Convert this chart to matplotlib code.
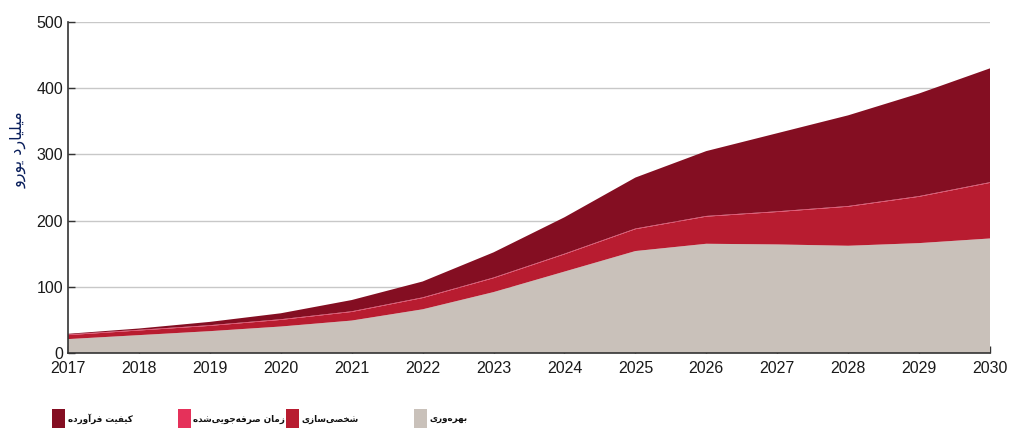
import matplotlib
matplotlib.use("Agg")
import matplotlib.pyplot as plt
from matplotlib.patches import Rectangle

years = [2017, 2018, 2019, 2020, 2021, 2022, 2023, 2024, 2025, 2026, 2027, 2028, 2029, 2030]
productivity = [21, 27, 33, 40, 49, 66, 92, 123, 154, 165, 164, 162, 166, 173]
personalization = [6, 7, 8, 10, 13, 17, 21, 26, 33, 41, 49, 59, 70, 84]
time_saved = [1, 1, 1, 1, 1, 1, 1, 1, 1, 1, 1, 1, 1, 1]
quality = [1, 2, 5, 9, 17, 24, 38, 55, 77, 98, 118, 137, 155, 172]

labels = {
    "quality": "کیفیت فرآورده",
    "time_saved": "زمان صرفه\u200cجویی\u200cشده",
    "personalization": "شخصی\u200cسازی",
    "productivity": "بهره\u200cوری",
}
y_label = "میلیارد یورو"
y_ticks = [0, 100, 200, 300, 400, 500]

colors = {
    "productivity": "#C9C1BA",
    "personalization": "#B81C30",
    "time_saved": "#E5315A",
    "quality": "#840E22",
}

# --- minimal Arabic/Persian shaping into presentation forms ---
FORMS = {
    '\u0627': ('\uFE8D', '\uFE8E', None, None),
    '\u0622': ('\uFE81', '\uFE82', None, None),
    '\u0628': ('\uFE8F', '\uFE90', '\uFE91', '\uFE92'),
    '\u062A': ('\uFE95', '\uFE96', '\uFE97', '\uFE98'),
    '\u062C': ('\uFE9D', '\uFE9E', '\uFE9F', '\uFEA0'),
    '\u062E': ('\uFEA5', '\uFEA6', '\uFEA7', '\uFEA8'),
    '\u062F': ('\uFEA9', '\uFEAA', None, None),
    '\u0631': ('\uFEAD', '\uFEAE', None, None),
    '\u0632': ('\uFEAF', '\uFEB0', None, None),
    '\u0633': ('\uFEB1', '\uFEB2', '\uFEB3', '\uFEB4'),
    '\u0634': ('\uFEB5', '\uFEB6', '\uFEB7', '\uFEB8'),
    '\u0635': ('\uFEB9', '\uFEBA', '\uFEBB', '\uFEBC'),
    '\u0641': ('\uFED1', '\uFED2', '\uFED3', '\uFED4'),
    '\u0644': ('\uFEDD', '\uFEDE', '\uFEDF', '\uFEE0'),
    '\u0645': ('\uFEE1', '\uFEE2', '\uFEE3', '\uFEE4'),
    '\u0646': ('\uFEE5', '\uFEE6', '\uFEE7', '\uFEE8'),
    '\u0647': ('\uFEE9', '\uFEEA', '\uFEEB', '\uFEEC'),
    '\u0648': ('\uFEED', '\uFEEE', None, None),
    '\u06A9': ('\uFB8E', '\uFB8F', '\uFB90', '\uFB91'),
    '\u06CC': ('\uFBFC', '\uFBFD', '\uFBFE', '\uFBFF'),
}


def shape(text):
    out = []
    chars = list(text)
    n = len(chars)
    for i, c in enumerate(chars):
        if c == '\u200c':
            continue
        if c not in FORMS:
            out.append(c)
            continue
        f = FORMS[c]
        prev = chars[i - 1] if i > 0 else None
        nxt = chars[i + 1] if i + 1 < n else None
        join_prev = prev in FORMS and FORMS[prev][2] is not None
        join_next = f[2] is not None and nxt in FORMS
        if join_prev and join_next:
            out.append(f[3])
        elif join_prev:
            out.append(f[1])
        elif join_next:
            out.append(f[2])
        else:
            out.append(f[0])
    return ''.join(reversed(out))


W, H = 1009, 428
fig = plt.figure(figsize=(W / 100, H / 100), dpi=100)
ax = fig.add_axes([68 / W, 1 - 353 / H, 922 / W, 331 / H])

ax.stackplot(years, productivity, personalization, time_saved, quality,
             colors=[colors["productivity"], colors["personalization"],
                     colors["time_saved"], colors["quality"]],
             linewidth=0, zorder=2)

ax.set_xlim(2017, 2030)
ax.set_ylim(0, 500)
ax.set_xticks(years)
ax.set_yticks(y_ticks)
ax.yaxis.grid(True, color="#C8C8C8", linewidth=1.0, zorder=0)
ax.set_axisbelow(True)
for s in ["top", "right"]:
    ax.spines[s].set_visible(False)
for s in ["left", "bottom"]:
    ax.spines[s].set_color("#333333")
    ax.spines[s].set_linewidth(1.2)
ax.tick_params(axis="both", direction="in", colors="#333333", length=5,
               width=1.0, labelsize=11.5, labelcolor="#1a1a1a")
ax.tick_params(axis="x", pad=6)
for lab in ax.get_xticklabels() + ax.get_yticklabels():
    lab.set_fontfamily("Liberation Sans")

fig.text(18 / W, 1 - 150 / H, shape(y_label), rotation=90, ha="center",
         va="center", fontsize=11.5, color="#0a1f5c", family="DejaVu Sans")

# legend drawn manually
legend_items = [
    ("quality", 52, 68),
    ("time_saved", 178, 193),
    ("personalization", 286, 302),
    ("productivity", 414, 430),
]
for key, px, tx in legend_items:
    fig.patches.append(Rectangle((px / W, 1 - 428 / H), 13 / W, 19 / H,
                                 transform=fig.transFigure,
                                 facecolor=colors[key], edgecolor="none"))
    fig.text(tx / W, 1 - 419 / H, shape(labels[key]), ha="left", va="center",
             fontsize=6.3, fontweight="bold", color="#111111", family="DejaVu Sans")

fig.savefig("out.png", dpi=100)
